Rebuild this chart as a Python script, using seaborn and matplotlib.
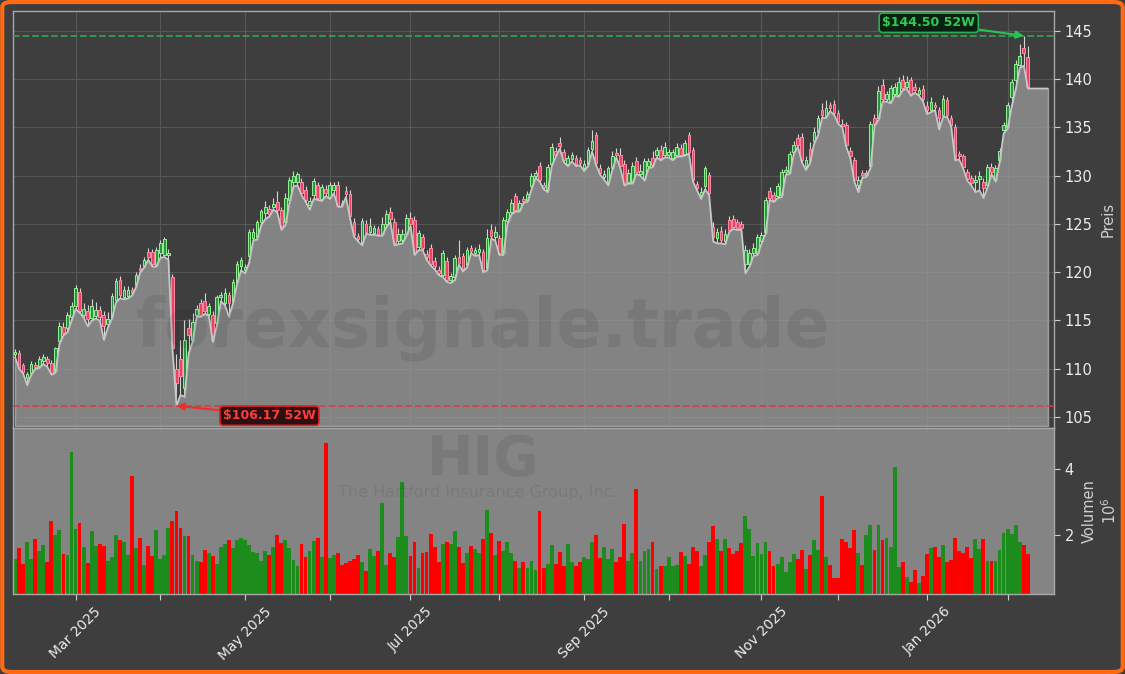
import numpy as np
import pandas as pd
import matplotlib
matplotlib.use("Agg")
import matplotlib.pyplot as plt
import seaborn as sns
from matplotlib.patches import FancyBboxPatch

# daily OHLC (USD) and volume (millions)
opens = [
    111.5, 111.6, 110.4, 109.0, 109.6, 110.4, 110.3, 110.8, 111.0, 110.6,
    109.8, 112.9, 114.3, 114.2, 115.4, 116.5, 118.0, 115.6, 116.0, 115.3,
    115.5, 116.1, 115.6, 114.6, 115.4, 117.1, 119.2, 117.4, 117.5, 118.2,
    118.7, 120.4, 120.6, 122.1, 122.1, 120.8, 122.0, 121.8, 121.8, 119.5,
    110.0, 111.0, 108.0, 114.2, 113.0, 115.6, 116.8, 117.0, 115.7, 115.6,
    114.7, 117.4, 116.8, 117.6, 117.0, 119.0, 120.6, 120.2, 121.7, 123.5,
    123.6, 125.2, 126.1, 126.6, 126.8, 127.3, 126.4, 125.2, 127.5, 129.3,
    129.4, 129.4, 128.5, 127.0, 128.0, 129.0, 127.6, 128.6, 127.8, 128.5,
    129.0, 127.2, 128.4, 128.1, 125.2, 123.8, 123.0, 125.0, 124.2, 124.1,
    124.5, 124.0, 125.0, 126.2, 125.2, 123.2, 123.3, 124.0, 125.6, 125.4,
    122.6, 123.6, 121.9, 122.5, 121.2, 120.2, 119.7, 121.2, 119.2, 119.5,
    121.6, 121.7, 120.7, 122.5, 122.0, 122.1, 122.1, 120.4, 124.4, 123.6,
    123.5, 122.0, 125.3, 126.2, 127.9, 126.5, 127.6, 127.5, 128.9, 130.0,
    131.0, 129.0, 128.5, 131.2, 132.6, 133.4, 132.5, 131.2, 131.7, 131.8,
    131.6, 130.8, 131.2, 132.8, 134.2, 130.8, 129.9, 129.2, 130.8, 132.4,
    132.1, 131.2, 129.4, 129.4, 131.5, 130.2, 129.7, 131.0, 131.8, 132.2,
    132.7, 132.2, 132.1, 131.8, 132.2, 132.9, 132.3, 134.2, 132.7, 129.1,
    128.0, 128.9, 130.1, 124.7, 123.5, 124.3, 123.2, 125.4, 125.5, 125.2,
    125.0, 120.9, 120.9, 122.0, 122.0, 123.2, 124.2, 128.4, 128.0, 127.9,
    128.0, 130.4, 130.4, 132.5, 133.9, 134.0, 131.0, 132.8, 133.6, 134.5,
    136.8, 136.2, 137.3, 137.4, 136.5, 135.4, 135.3, 132.6, 131.6, 129.0,
    130.3, 130.1, 131.0, 136.0, 136.0, 139.4, 137.9, 137.7, 138.5, 138.4,
    139.9, 139.2, 139.9, 139.2, 138.5, 139.0, 137.2, 136.8, 137.3, 136.8,
    136.3, 137.8, 136.0, 135.1, 132.3, 132.0, 130.4, 129.8, 129.4, 129.7,
    129.4, 129.0, 130.9, 129.6, 131.6, 134.7, 135.1, 138.2, 139.9, 141.5,
    143.2, 142.3,
]
highs = [
    112.0, 111.9, 110.6, 109.7, 110.8, 110.7, 111.3, 111.5, 111.3, 110.9,
    112.3, 114.8, 114.8, 115.9, 116.9, 118.7, 118.4, 116.8, 116.6, 117.2,
    116.9, 116.5, 116.0, 115.9, 117.8, 119.4, 119.6, 118.6, 118.6, 118.5,
    120.0, 120.9, 121.6, 122.5, 122.4, 122.6, 123.3, 123.6, 122.4, 119.8,
    111.5, 113.0, 115.0, 115.2, 115.8, 116.6, 117.2, 117.8, 116.8, 116.0,
    117.6, 118.0, 118.4, 118.0, 119.3, 121.2, 121.6, 120.9, 124.5, 124.6,
    125.4, 126.6, 127.4, 127.0, 127.7, 128.4, 126.8, 128.2, 129.9, 130.5,
    130.4, 129.8, 128.9, 127.8, 129.8, 129.4, 129.1, 129.0, 129.3, 129.4,
    129.5, 127.5, 128.9, 128.5, 125.6, 124.1, 125.6, 125.4, 125.6, 124.9,
    124.8, 125.7, 126.4, 126.8, 125.6, 124.6, 124.5, 126.0, 126.2, 125.8,
    124.4, 124.0, 122.3, 122.9, 121.6, 120.6, 122.3, 121.6, 119.9, 121.8,
    123.3, 122.0, 122.6, 122.8, 122.6, 122.9, 122.4, 124.5, 125.0, 124.8,
    123.9, 125.7, 126.6, 127.6, 128.2, 127.5, 127.9, 128.4, 130.3, 130.6,
    131.4, 129.3, 131.2, 133.4, 133.0, 134.0, 132.8, 132.1, 132.5, 132.1,
    131.9, 131.6, 133.0, 134.7, 134.5, 131.2, 130.6, 131.0, 132.6, 132.9,
    132.9, 131.6, 130.7, 131.4, 131.9, 131.2, 131.8, 131.8, 132.6, 133.0,
    133.2, 133.5, 132.8, 132.8, 133.4, 133.3, 133.7, 134.5, 133.0, 129.5,
    128.8, 131.0, 130.4, 125.2, 124.6, 124.8, 124.5, 125.8, 125.9, 125.5,
    125.3, 122.8, 122.4, 123.0, 124.0, 124.2, 127.8, 128.8, 128.3, 129.2,
    130.7, 131.0, 132.6, 133.6, 134.3, 134.4, 132.0, 133.5, 135.0, 136.3,
    137.5, 137.8, 137.6, 137.8, 136.8, 135.9, 135.6, 133.0, 131.9, 130.0,
    130.6, 130.6, 135.7, 136.4, 139.3, 140.0, 138.8, 139.4, 139.6, 140.2,
    140.4, 140.3, 140.2, 139.6, 139.2, 139.4, 137.7, 138.2, 137.6, 137.1,
    138.4, 138.2, 136.3, 135.4, 132.6, 132.3, 130.7, 130.1, 130.1, 130.5,
    129.8, 131.2, 131.3, 131.1, 132.9, 135.6, 137.6, 140.0, 142.0, 143.7,
    144.5, 143.4,
]
lows = [
    111.2, 110.0, 109.5, 108.3, 109.4, 110.0, 110.1, 110.5, 110.2, 109.4,
    109.6, 112.6, 113.5, 113.8, 115.0, 116.2, 115.8, 115.3, 114.4, 115.0,
    115.2, 115.0, 113.0, 114.3, 115.2, 116.9, 117.3, 117.2, 117.3, 117.6,
    118.5, 120.0, 120.5, 121.3, 120.6, 120.6, 121.5, 121.6, 121.3, 112.0,
    106.17, 107.3, 107.1, 111.6, 112.8, 115.4, 115.4, 115.7, 115.5, 112.8,
    114.5, 117.0, 116.6, 115.4, 116.8, 118.8, 120.2, 119.9, 121.0, 123.3,
    123.4, 124.9, 125.5, 125.8, 126.5, 126.2, 124.4, 124.9, 127.2, 128.9,
    129.0, 128.0, 127.3, 126.5, 127.6, 127.5, 127.4, 127.9, 127.6, 128.2,
    126.8, 126.8, 127.8, 125.6, 123.7, 123.2, 122.8, 124.0, 123.9, 123.9,
    123.8, 123.8, 124.7, 125.2, 122.8, 122.9, 123.0, 123.8, 124.8, 121.8,
    122.3, 122.3, 121.3, 120.7, 120.3, 119.7, 119.5, 119.0, 118.9, 119.2,
    120.8, 120.1, 120.5, 122.0, 121.7, 121.8, 120.0, 120.2, 123.5, 123.3,
    121.8, 121.8, 125.0, 126.0, 126.3, 126.3, 127.2, 127.3, 128.6, 129.8,
    129.4, 128.6, 128.3, 131.0, 132.0, 132.8, 131.4, 131.0, 131.5, 131.0,
    131.1, 130.5, 131.0, 132.5, 131.1, 130.1, 129.6, 129.0, 130.6, 131.9,
    130.8, 129.0, 129.2, 129.2, 130.2, 130.0, 129.5, 130.8, 130.9, 131.9,
    131.6, 131.9, 131.9, 131.6, 132.0, 132.0, 132.1, 132.3, 129.4, 128.5,
    127.6, 128.6, 128.0, 123.2, 123.0, 123.0, 122.9, 124.2, 124.5, 124.4,
    124.4, 119.9, 120.6, 121.7, 121.8, 123.0, 124.0, 127.5, 127.3, 127.7,
    127.8, 130.1, 130.2, 132.3, 133.0, 131.4, 130.6, 131.3, 133.3, 134.2,
    136.0, 136.0, 136.7, 136.3, 135.4, 135.0, 133.0, 131.8, 129.4, 128.3,
    129.8, 129.9, 130.8, 135.2, 135.8, 137.7, 137.7, 137.5, 138.3, 138.2,
    138.9, 139.0, 138.3, 138.6, 138.3, 137.7, 136.4, 136.6, 136.8, 134.8,
    136.1, 136.1, 135.1, 131.6, 131.7, 130.7, 129.5, 129.0, 128.3, 128.5,
    127.7, 128.8, 130.2, 129.4, 131.4, 134.4, 134.9, 137.2, 139.0, 141.2,
    141.4, 139.05,
]
closes = [
    111.7, 110.1, 109.7, 109.5, 110.5, 110.2, 111.0, 111.2, 110.6, 109.6,
    112.1, 114.4, 113.7, 115.6, 116.5, 118.4, 116.0, 116.2, 115.2, 116.5,
    116.1, 115.4, 114.4, 115.2, 117.5, 119.1, 117.6, 118.2, 118.2, 117.9,
    119.7, 120.2, 121.3, 121.6, 120.9, 122.3, 123.0, 123.4, 122.0, 112.2,
    108.5, 109.2, 113.0, 113.5, 114.8, 116.2, 115.6, 116.0, 116.5, 113.0,
    117.4, 117.6, 117.8, 116.8, 119.0, 120.9, 121.3, 120.5, 124.2, 124.2,
    125.2, 126.3, 126.8, 126.0, 127.1, 126.4, 124.8, 127.7, 129.6, 130.0,
    130.2, 128.2, 127.5, 127.4, 129.5, 127.7, 128.8, 128.2, 129.0, 129.0,
    126.9, 127.0, 128.1, 125.8, 123.9, 123.4, 125.3, 124.2, 124.8, 124.6,
    124.0, 125.0, 126.0, 125.5, 123.0, 124.0, 124.0, 125.6, 125.0, 122.0,
    124.1, 122.5, 121.6, 120.9, 120.6, 119.9, 122.0, 119.2, 119.6, 121.5,
    121.0, 120.3, 122.3, 122.2, 122.3, 122.4, 120.2, 123.5, 123.8, 124.2,
    122.0, 125.4, 126.2, 127.2, 126.5, 127.2, 127.4, 128.1, 130.0, 130.3,
    129.6, 128.8, 130.9, 133.0, 132.2, 133.1, 131.6, 131.8, 132.2, 131.2,
    131.3, 131.2, 132.7, 133.6, 131.3, 130.3, 130.2, 130.8, 132.0, 132.2,
    131.0, 129.2, 130.3, 131.0, 130.4, 130.5, 131.5, 131.5, 131.1, 132.7,
    131.8, 133.0, 132.5, 132.5, 133.0, 132.2, 133.4, 132.5, 129.6, 128.7,
    128.3, 130.8, 128.2, 123.7, 124.2, 123.3, 124.0, 124.4, 124.7, 124.6,
    124.6, 122.3, 122.0, 122.5, 123.7, 123.9, 127.5, 127.7, 127.5, 128.9,
    130.4, 130.6, 132.3, 133.2, 133.2, 131.6, 131.6, 131.5, 134.5, 136.0,
    136.3, 137.0, 137.0, 136.5, 135.6, 135.2, 133.2, 132.0, 129.6, 129.6,
    130.1, 130.3, 135.4, 135.4, 138.8, 137.9, 138.5, 139.1, 139.2, 139.7,
    139.1, 139.7, 138.5, 138.9, 138.9, 137.9, 136.8, 137.6, 137.1, 136.0,
    138.0, 136.3, 135.3, 131.8, 132.0, 130.9, 129.7, 129.2, 129.6, 130.0,
    128.7, 130.9, 130.4, 130.8, 132.6, 135.3, 137.3, 139.7, 141.6, 142.4,
    142.7, 139.2,
]
volume_m = [
    1.28, 1.61, 1.12, 1.79, 1.28, 1.89, 1.52, 1.70, 1.18, 2.42,
    2.00, 2.15, 1.42, 1.39, 4.52, 2.18, 2.36, 1.65, 1.15, 2.12,
    1.67, 1.73, 1.67, 1.21, 1.34, 2.00, 1.85, 1.79, 1.39, 3.79,
    1.61, 1.91, 1.09, 1.67, 1.36, 2.15, 1.28, 1.39, 2.21, 2.42,
    2.73, 2.21, 1.97, 1.97, 1.39, 1.21, 1.18, 1.55, 1.45, 1.36,
    1.12, 1.64, 1.73, 1.85, 1.61, 1.85, 1.91, 1.85, 1.70, 1.48,
    1.45, 1.21, 1.52, 1.39, 1.64, 2.00, 1.76, 1.85, 1.61, 1.24,
    1.06, 1.73, 1.33, 1.52, 1.82, 1.91, 1.33, 4.80, 1.30, 1.39,
    1.45, 1.09, 1.15, 1.21, 1.27, 1.39, 1.18, 0.91, 1.58, 1.36,
    1.52, 2.97, 1.09, 1.45, 1.33, 1.94, 3.61, 1.97, 1.36, 1.79,
    1.00, 1.45, 1.48, 2.03, 1.64, 1.18, 1.73, 1.79, 1.73, 2.12,
    1.64, 1.15, 1.45, 1.67, 1.58, 1.45, 1.88, 2.76, 2.06, 1.39,
    1.82, 1.52, 1.79, 1.45, 1.21, 1.00, 1.18, 1.00, 1.21, 0.94,
    2.73, 1.00, 1.12, 1.70, 1.12, 1.48, 1.06, 1.73, 1.18, 1.06,
    1.18, 1.33, 1.27, 1.79, 2.00, 1.30, 1.64, 1.27, 1.58, 1.18,
    1.33, 2.33, 1.21, 1.45, 3.39, 1.21, 1.52, 1.58, 1.79, 0.97,
    1.06, 1.06, 1.33, 1.06, 1.09, 1.48, 1.36, 1.12, 1.64, 1.52,
    1.06, 1.39, 1.79, 2.27, 1.88, 1.52, 1.88, 1.61, 1.42, 1.52,
    1.76, 2.58, 2.18, 1.36, 1.76, 1.42, 1.79, 1.52, 1.06, 1.12,
    1.33, 0.88, 1.18, 1.42, 1.27, 1.55, 0.97, 1.39, 1.85, 1.55,
    3.18, 1.33, 1.09, 0.70, 0.70, 1.88, 1.79, 1.61, 2.15, 1.45,
    1.09, 2.00, 2.30, 1.55, 2.30, 1.85, 1.91, 1.64, 4.06, 1.03,
    1.18, 0.73, 0.58, 0.94, 0.55, 0.76, 1.42, 1.61, 1.64, 1.33,
    1.70, 1.18, 1.24, 1.91, 1.52, 1.45, 1.64, 1.30, 1.88, 1.58,
    1.88, 1.21, 1.21, 1.21, 1.55, 2.06, 2.18, 2.03, 2.30, 1.79,
    1.70, 1.42,
]
holidays = ["2025-02-17", "2025-04-18", "2025-05-26", "2025-06-19", "2025-07-04",
            "2025-09-01", "2025-11-27", "2025-12-25", "2026-01-01", "2026-01-19"]

BG = "#3e3e3e"
GRID = "#575757"
TXT = "#ececec"

dates = pd.date_range("2025-02-07", periods=len(closes),
                      freq=pd.offsets.CustomBusinessDay(holidays=holidays))
df = pd.DataFrame({"date": dates, "open": opens, "high": highs, "low": lows,
                   "close": closes, "vol": volume_m})
df["i"] = np.arange(len(df))
df["dir"] = np.where(df["close"] >= df["open"], "up", "down")
up = df["dir"] == "up"

sns.set_theme(style="dark", rc={"axes.facecolor": BG, "figure.facecolor": BG,
                                "axes.edgecolor": "#a8a8a8", "text.color": TXT,
                                "xtick.color": "#cfcfcf", "ytick.color": "#cfcfcf"})

fig = plt.figure(figsize=(11.25, 6.74), dpi=100)
ax = fig.add_axes([0.01156, 0.36499, 0.92533, 0.61869])
axv = fig.add_axes([0.01156, 0.11869, 0.92533, 0.24629], sharex=ax)
axv.set_facecolor("#848484")

# candles
ax.vlines(df["i"], df["low"], df["high"], color="#d4d4d4", lw=0.8, zorder=2)
ax.bar(df["i"], (df["close"] - df["open"]).abs().clip(lower=0.06),
       bottom=np.minimum(df["open"], df["close"]), width=0.66,
       color=np.where(up, "#2f8f44", "#e84565"),
       edgecolor=np.where(up, "#8ef58e", "#ff8aa5"), lw=0.7, zorder=3)

# gray area under the low line, extended flat past the last session
x_fill = np.append(df["i"].values, df["i"].values[-1] + 5)
y_fill = np.append(df["low"].values, df["low"].values[-1])
ax.fill_between(x_fill, y_fill, 104.07, facecolor="#9b9b9b", alpha=0.75,
                edgecolor="#b4b4b4", lw=1.0, zorder=4)
sns.lineplot(x=x_fill, y=y_fill, ax=ax, color="#c9c9c9", lw=1.1, zorder=5, sort=False)

hi_i, hi = int(df["high"].idxmax()), df["high"].max()
lo_i, lo = int(df["low"].idxmin()), df["low"].min()
ax.axhline(hi, color="#2fae55", ls="--", lw=1.3, alpha=0.85, zorder=6)
ax.axhline(lo, color="#e03a3a", ls="--", lw=1.3, alpha=0.85, zorder=6)
ax.annotate(f"\\${hi:.2f} 52W", xy=(hi_i, hi), xytext=(-95, 13), textcoords="offset pixels",
            ha="center", va="center", color="#2ecc55", fontsize=9, fontweight="bold",
            bbox=dict(boxstyle="round,pad=0.25", fc="#06210f", ec="#27ae50", lw=1.2),
            arrowprops=dict(arrowstyle="-|>", color="#27c253", lw=1.5, mutation_scale=11,
                            shrinkA=0, shrinkB=0), zorder=10)
ax.annotate(f"\\${lo:.2f} 52W", xy=(lo_i, lo), xytext=(93, -10), textcoords="offset pixels",
            ha="center", va="center", color="#ff3b3b", fontsize=9, fontweight="bold",
            bbox=dict(boxstyle="round,pad=0.25", fc="#2a1010", ec="#e02020", lw=1.2),
            arrowprops=dict(arrowstyle="-|>", color="#e83030", lw=1.5, mutation_scale=11,
                            shrinkA=0, shrinkB=0), zorder=10)

# volume
sns.barplot(data=df, x="i", y="vol", hue="dir", palette={"up": "#1c8c1c", "down": "#fe0000"},
            native_scale=True, width=0.95, saturation=1, dodge=False, legend=False,
            errorbar=None, linewidth=0, ax=axv)

ax.set_ylim(103.86, 147.07)
axv.set_ylim(0.21, 5.25)
axv.set_xlim(-0.5, 257.5)
ax.set_yticks(range(105, 146, 5))
axv.set_yticks([2, 4])

new_month = df["date"].dt.month.ne(df["date"].dt.month.shift())
new_month.iloc[0] = False
starts = df[new_month]
major = starts[starts["date"].dt.month % 2 == 1]
minor = starts[starts["date"].dt.month % 2 == 0]
axv.set_xticks(major["i"], major["date"].dt.strftime("%b %Y"))
axv.set_xticks(minor["i"], minor=True)
plt.setp(axv.get_xticklabels(), rotation=45, fontsize=10, color=TXT)

for a in (ax, axv):
    a.yaxis.tick_right()
    a.yaxis.set_label_position("right")
    a.tick_params(axis="y", length=4, width=0.8, labelsize=10.5, labelcolor=TXT)
    for s in a.spines.values():
        s.set_color("#a8a8a8")
        s.set_linewidth(1.0)
ax.tick_params(axis="x", which="both", length=0, labelbottom=False)
axv.tick_params(axis="x", which="both", length=4, width=0.8, bottom=True)
ax.grid(True, which="both", color=GRID, lw=0.8)
axv.grid(False)
ax.set_axisbelow(True)

ax.set_xlabel("")
axv.set_xlabel("")
ax.set_ylabel("Preis", color="#cfcfcf", fontsize=10.5, labelpad=6)
axv.set_ylabel("Volumen\n$10^{6}$", color="#cfcfcf", fontsize=10.5, labelpad=6)

fig.text(0.4293, 0.5134, "forexsignale.trade", ha="center", va="center", fontsize=48,
         fontweight="bold", color="black", alpha=0.08)
fig.text(0.4293, 0.3175, "HIG", ha="center", va="center", fontsize=40,
         fontweight="bold", color="black", alpha=0.08)
fig.text(0.4249, 0.2700, "The Hartford Insurance Group, Inc.", ha="center", va="center",
         fontsize=11.5, color="black", alpha=0.08)

fig.patches.append(FancyBboxPatch((0.002, 0.003), 0.996, 0.994, transform=fig.transFigure,
                                  boxstyle="round,pad=0,rounding_size=0.008",
                                  fill=False, ec="#ff6a13", lw=3))

fig.savefig("out.png", dpi=100, facecolor=fig.get_facecolor())
